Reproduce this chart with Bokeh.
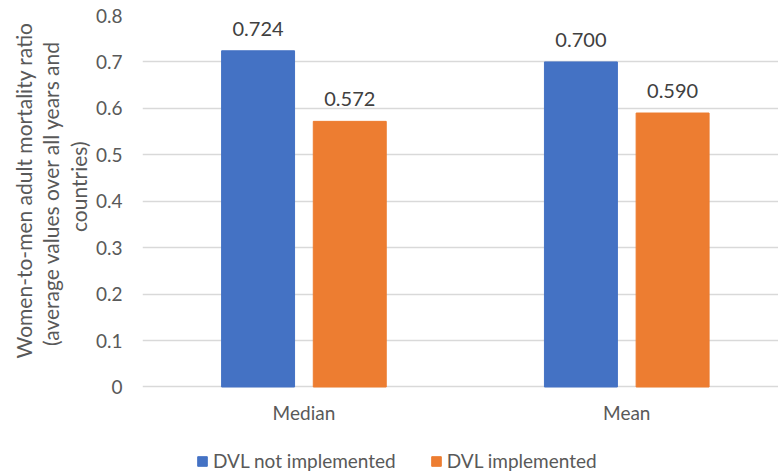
from bokeh.plotting import figure
from bokeh.models import (ColumnDataSource, Range1d, FixedTicker, Legend, LegendItem,
                          NumeralTickFormatter, Title)
from bokeh.transform import dodge
from bokeh.core.properties import value
from bokeh.embed import file_html
from bokeh.resources import INLINE

categories = ["Median", "Mean"]
not_implemented = [0.724, 0.700]
implemented = [0.572, 0.590]
series_names = ["DVL not implemented", "DVL implemented"]
y_ticks = [0, 0.1, 0.2, 0.3, 0.4, 0.5, 0.6, 0.7, 0.8]
y_title_lines = ["Women-to-men adult mortality ratio",
                 "(average values over all years and",
                 "countries)"]

FONT = "Lato"
TXT = "#595959"
BLUE = "#4472C4"
ORANGE = "#ED7D31"

pos = [i + 0.5 for i in range(len(categories))]
src = ColumnDataSource(dict(
    x=pos, cat=categories,
    a=not_implemented, b=implemented,
    a_lbl=[f"{v:.3f}" for v in not_implemented],
    b_lbl=[f"{v:.3f}" for v in implemented],
))

# frame reaches the bottom of the canvas so the category labels and the
# legend can sit under the zero line
p = figure(frame_width=636, frame_height=458, output_backend="svg", toolbar_location=None,
           x_range=Range1d(0, 1.97), y_range=Range1d(-0.1863, 0.8),
           min_border_left=142, min_border_right=0, min_border_top=15,
           min_border_bottom=0)
p.outline_line_color = None
p.background_fill_color = "white"
p.border_fill_color = "white"

r1 = p.vbar(x=dodge("x", -0.142, range=p.x_range), top="a", width=0.226,
            source=src, fill_color=BLUE, line_color=BLUE)
r2 = p.vbar(x=dodge("x", 0.142, range=p.x_range), top="b", width=0.226,
            source=src, fill_color=ORANGE, line_color=ORANGE)

for col, lbl, off in (("a", "a_lbl", -0.142), ("b", "b_lbl", 0.142)):
    p.text(x=dodge("x", off, range=p.x_range), y=col, text=lbl, source=src,
           text_align="center", text_baseline="bottom", y_offset=-15,
           text_font=value(FONT), text_font_size="20px", text_color="#404040")

# category labels under the zero line
p.text(x="x", y=0, text="cat", source=src, text_align="center",
       text_baseline="middle", y_offset=26, text_font=value(FONT),
       text_font_size="19px", text_color=TXT)

# axes
p.xaxis.visible = False
p.xgrid.grid_line_color = None
p.ygrid.grid_line_color = "#D9D9D9"
p.ygrid.grid_line_width = 1.3
p.yaxis.ticker = FixedTicker(ticks=y_ticks)
p.yaxis.formatter = NumeralTickFormatter(format="0.0")
p.yaxis.major_label_overrides = {0: "0"}

ax = p.yaxis[0]
ax.axis_line_color = None
ax.major_tick_line_color = None
ax.minor_tick_line_color = None
ax.major_tick_out = 0
ax.major_tick_in = 0
ax.minor_tick_out = 0
ax.major_label_text_font = FONT
ax.major_label_text_font_size = "19px"
ax.major_label_text_color = TXT
ax.major_label_standoff = 20

# multi-line, centred y-axis title (innermost line added first)
title_offsets = [126, 25, 7]
for i, (line, off) in enumerate(zip(reversed(y_title_lines), title_offsets)):
    p.add_layout(Title(text=line, align="right", offset=off,
                       standoff=3 if i == 0 else 0,
                       text_font=FONT, text_font_size="21px",
                       text_font_style="normal", text_color=TXT), "left")

legend = Legend(items=[LegendItem(label=series_names[0], renderers=[r1]),
                       LegendItem(label=series_names[1], renderers=[r2])],
                orientation="horizontal", location=(54, 1),
                label_text_font=FONT, label_text_font_size="19px",
                label_text_color=TXT, glyph_width=12, glyph_height=12,
                spacing=34, label_standoff=5, border_line_color=None,
                background_fill_alpha=0, margin=0, padding=0)
p.add_layout(legend, "center")

open("out.html", "w").write(file_html(p, INLINE))
